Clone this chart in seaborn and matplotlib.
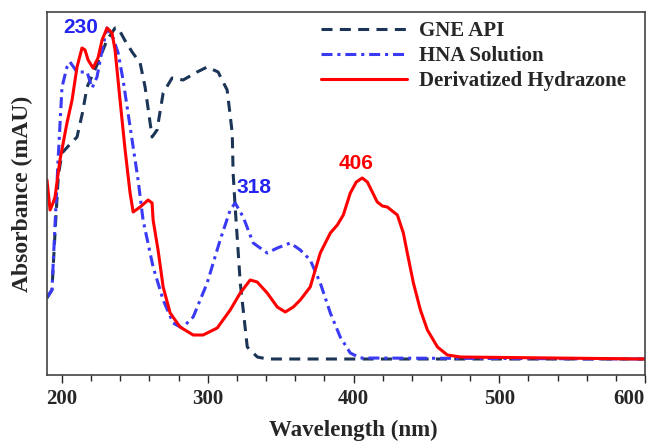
import matplotlib
matplotlib.use("Agg")
import matplotlib.pyplot as plt
import seaborn as sns
import numpy as np
import pandas as pd

# ---- data ----
gne_wl = [189.7, 193.1, 195.5, 197.5, 200.0, 205.0, 210.3, 214.0, 217.2, 224.0, 230.9, 236.4,
          238.5, 243.0, 248.1, 253.6, 257.0, 261.8, 265.2, 269.4, 275.5, 283.1, 292.7, 299.6,
          307.1, 313.3, 316.8, 317.4, 318.8, 322.3, 327.1, 334.0, 340.9, 600.0]
gne_abs = [77, 85, 150, 200, 222, 230, 238, 262, 288, 310, 335, 347,
           347, 335, 323, 312, 288, 238, 245, 282, 297, 295, 303, 308,
           303, 285, 242, 202, 168, 92, 28, 18, 16, 16]

hna_wl = [189.7, 193.1, 197.3, 200.0, 203.4, 205.5, 210.3, 217.2, 220.6, 224.0, 227.5, 230.9,
          235.0, 238.5, 241.9, 245.3, 248.8, 252.2, 255.6, 262.5, 269.4, 276.2, 282.4, 290.0,
          299.6, 308.5, 315.4, 318.8, 324.3, 331.2, 340.8, 347.7, 356.6, 363.5, 370.3, 377.2,
          384.1, 390.9, 397.8, 404.7, 600.0]
hna_abs = [78, 85, 215, 288, 308, 313, 303, 303, 287, 298, 325, 347,
           337, 322, 295, 262, 228, 195, 155, 108, 75, 52, 47, 58,
           92, 135, 165, 172, 158, 132, 122, 127, 132, 125, 115, 92,
           62, 38, 22, 17, 16]

hyd_wl = [189.7, 191.8, 193.8, 195.2, 198.6, 203.4, 206.9, 210.3, 213.7, 215.8, 217.9, 221.3,
          224.7, 227.5, 230.9, 234.3, 236.4, 239.8, 243.3, 246.7, 248.8, 253.6, 259.1, 261.8,
          262.5, 265.9, 269.4, 274.2, 281.0, 290.0, 296.8, 306.5, 315.4, 322.3, 329.1, 333.9,
          340.8, 347.7, 353.2, 358.7, 363.5, 370.3, 377.2, 384.1, 388.9, 393.0, 397.8, 401.9,
          406.0, 409.5, 412.9, 416.3, 419.8, 423.2, 426.6, 430.1, 434.2, 436.9, 441.1, 445.9,
          450.7, 457.6, 464.4, 473.4, 600.0]
hyd_abs = [195, 165, 172, 178, 215, 252, 275, 308, 327, 325, 315, 307,
           317, 335, 347, 342, 325, 275, 225, 182, 163, 168, 175, 172,
           155, 125, 88, 62, 48, 40, 40, 47, 65, 82, 95, 93,
           82, 68, 63, 68, 75, 88, 122, 142, 150, 160, 182, 193,
           197, 193, 183, 173, 169, 168, 164, 160, 142, 122, 92, 65,
           45, 28, 20, 18, 16]

series_names = ["GNE API", "HNA Solution", "Derivatized Hydrazone"]
x_ticks = [200, 300, 400, 500, 600]
peak_labels = ["230", "318", "406"]

# ---- plotting ----
sns.set_style("ticks")
plt.rcParams['font.family'] = ['Liberation Serif', 'DejaVu Serif']

fig = plt.figure(figsize=(6.49, 4.43), dpi=100)
ax = fig.add_axes([47/649, 1-375/443, (645-47)/649, (375-12)/443])

styles = [
    dict(color="#1c3557", linestyle=(0, (3.6, 2.4)), lw=2.2),
    dict(color="#3a3af5", linestyle=(0, (3.6, 1.6, 1.0, 1.6)), lw=2.2),
    dict(color="#ff0000", linestyle="-", lw=2.2),
]
data = [(gne_wl, gne_abs), (hna_wl, hna_abs), (hyd_wl, hyd_abs)]
for (wl, ab), name, st in zip(data, series_names, styles):
    sns.lineplot(x=wl, y=ab, ax=ax, label=name, color=st["color"],
                 linestyle=st["linestyle"], linewidth=st["lw"], sort=False)

ax.set_xlim(189.7, 600)
ax.set_ylim(0, 363)
ax.set_xticks(x_ticks)
ax.set_xticks(np.arange(200, 601, 20), minor=True)
ax.set_yticks([])
ax.tick_params(axis="x", which="major", length=6, width=1, direction="out", labelsize=15, pad=4)
ax.tick_params(axis="x", which="minor", length=4, width=1, direction="out")
labels = ax.get_xticklabels()
for lab in labels:
    lab.set_fontweight("bold")
labels[-1].set_horizontalalignment("right")
for s in ax.spines.values():
    s.set_visible(True)
    s.set_color("#444444")
    s.set_linewidth(1.2)

ax.set_xlabel("Wavelength (nm)", fontsize=16.5, fontweight="bold", labelpad=8)
ax.xaxis.label.set_x((353.5 - 47) / 598)
ax.set_ylabel("Absorbance (mAU)", fontsize=17, fontweight="bold", labelpad=10)

ann_font = ['Liberation Sans', 'DejaVu Sans']
ax.text(213, 342, peak_labels[0], color="#2424f0", fontsize=15, fontweight="bold",
        family=ann_font, ha="center", va="baseline")
ax.text(331.9, 182, peak_labels[1], color="#2424f0", fontsize=15, fontweight="bold",
        family=ann_font, ha="center", va="baseline")
ax.text(401.6, 206, peak_labels[2], color="#ff0000", fontsize=15, fontweight="bold",
        family=ann_font, ha="center", va="baseline")

leg = ax.legend(loc="upper right", frameon=False, handlelength=4.1,
                handletextpad=0.6, labelspacing=0.25, borderaxespad=0, borderpad=0,
                bbox_to_anchor=(626/649, 1-21/443), bbox_transform=fig.transFigure,
                prop=dict(weight="bold", size=15))

fig.savefig("out.png", dpi=100)
